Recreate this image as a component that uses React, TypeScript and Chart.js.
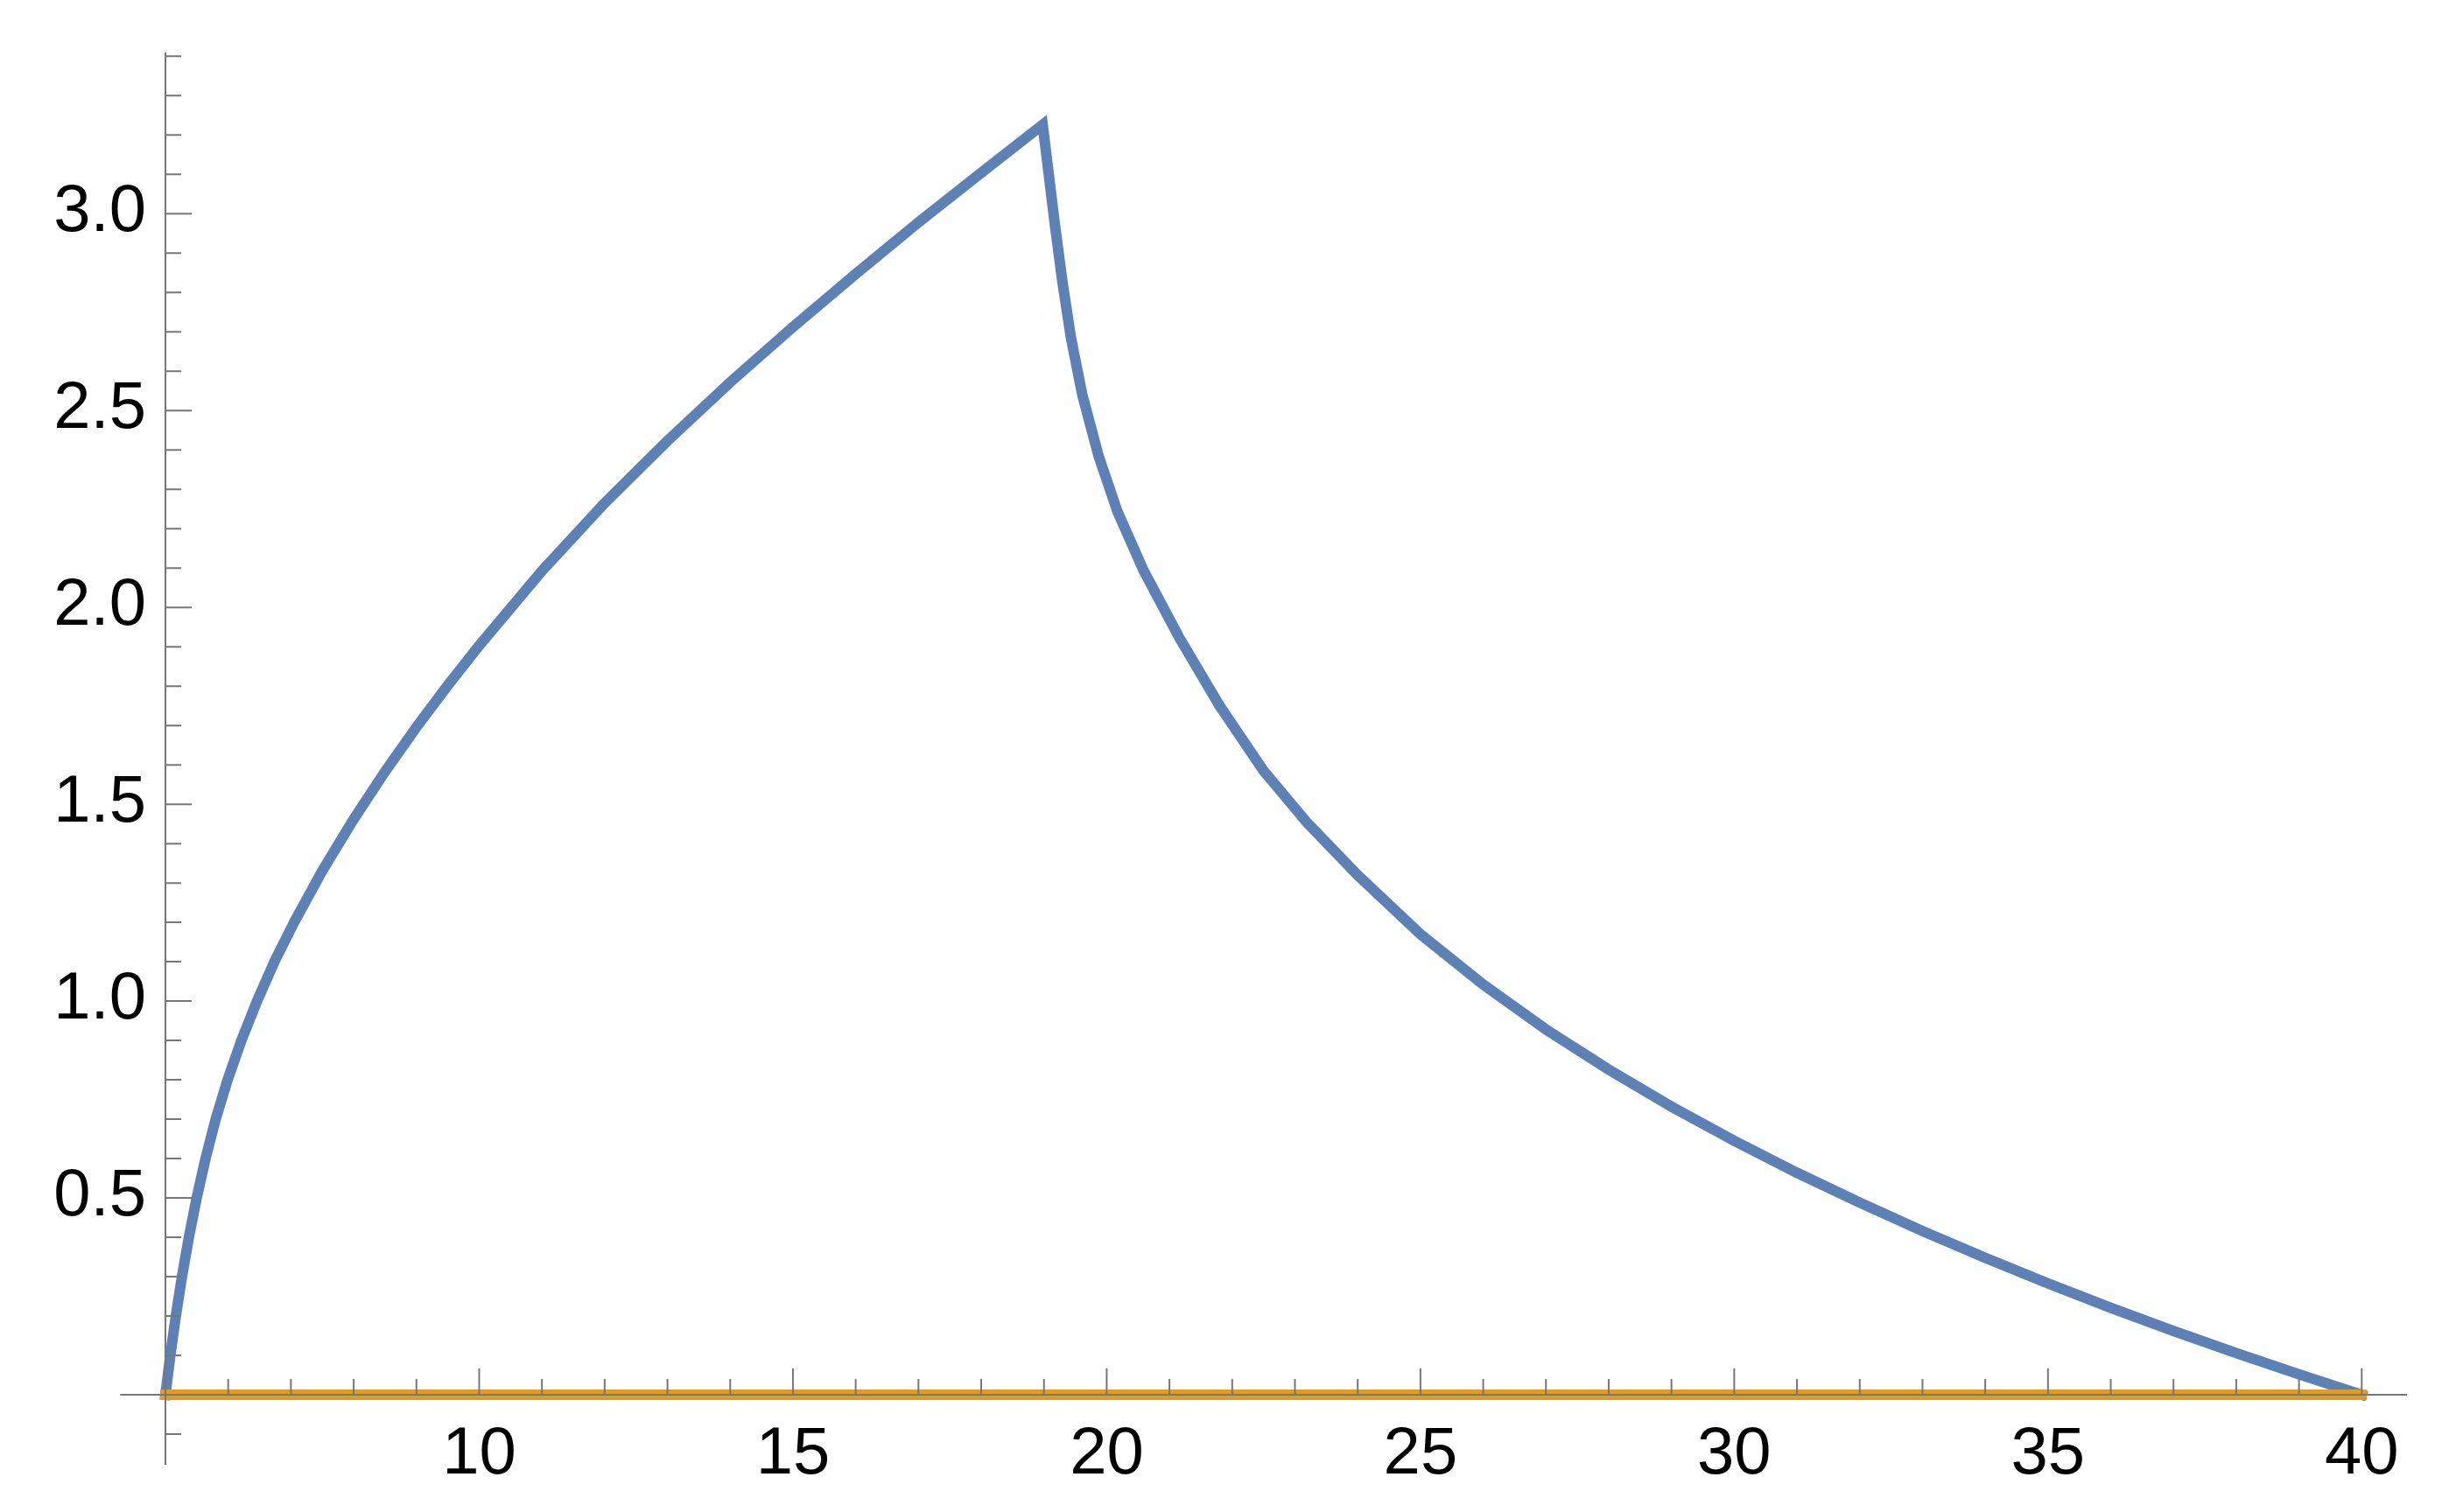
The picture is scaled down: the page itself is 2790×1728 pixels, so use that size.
import React, { useEffect, useRef } from "react";
import { Chart, registerables } from "chart.js";

Chart.register(...registerables);

// Blue curve (series 1): rising branch then falling branch
const blueX = [
  5.0, 5.078, 5.166, 5.264, 5.374, 5.498, 5.639, 5.801, 5.991, 6.211, 6.46, 6.74, 7.06, 7.5,
  8.0, 8.5, 9.0, 9.5, 10, 11, 12, 13, 14, 15, 16, 17, 18, 18.98,
  19.17, 19.29, 19.43, 19.61, 19.87, 20.17, 20.59, 21.15, 21.8, 22.5, 23.2, 24, 25, 26, 27,
  28, 29, 30, 31, 32, 33, 34, 35, 36, 37, 38, 39, 40,
];
const blueY = [
  0.0, 0.1, 0.2, 0.3, 0.4, 0.5, 0.6, 0.7, 0.8, 0.9, 1.0, 1.101, 1.203, 1.331,
  1.462, 1.583, 1.696, 1.802, 1.903, 2.093, 2.265, 2.423, 2.572, 2.712, 2.847, 2.978, 3.104, 3.226,
  2.978, 2.832, 2.685, 2.541, 2.385, 2.244, 2.093, 1.925, 1.75, 1.585, 1.452, 1.32, 1.17, 1.042, 0.928,
  0.826, 0.732, 0.645, 0.564, 0.488, 0.416, 0.348, 0.283, 0.221, 0.162, 0.106, 0.052, 0.0,
];

// Orange line (series 2)
const orangeX = [5, 40];
const orangeY = [0, 0];

// Axis ticks
const xTickLabels = ["10", "15", "20", "25", "30", "35", "40"];
const yTickLabels = ["0.5", "1.0", "1.5", "2.0", "2.5", "3.0"];
const xMinorTicks = [5, 6, 7, 8, 9, 10, 11, 12, 13, 14, 15, 16, 17, 18, 19, 20, 21, 22, 23, 24, 25, 26, 27, 28, 29, 30, 31, 32, 33, 34, 35, 36, 37, 38, 39, 40];
const yMinorTicks = [-0.1, 0, 0.1, 0.2, 0.3, 0.4, 0.5, 0.6, 0.7, 0.8, 0.9, 1.0, 1.1, 1.2, 1.3, 1.4, 1.5, 1.6, 1.7, 1.8, 1.9, 2.0, 2.1, 2.2, 2.3, 2.4, 2.5, 2.6, 2.7, 2.8, 2.9, 3.0, 3.1, 3.2, 3.3, 3.4];
const yMajorTicks = [0, 0.5, 1.0, 1.5, 2.0, 2.5, 3.0];
const xMajorTicks = [5, 10, 15, 20, 25, 30, 35, 40];

const X_MIN = 4.279;
const X_MAX = 40.721;
const Y_MIN = -0.1778;
const Y_MAX = 3.4096;
const AXIS_X = 5;
const AXIS_Y = 0;

const axesPlugin = {
  id: "mmaAxes",
  afterDatasetsDraw(chart: any) {
    const ctx = chart.ctx;
    const xs = chart.scales.x;
    const ys = chart.scales.y;
    const ca = chart.chartArea;
    const x0 = xs.getPixelForValue(AXIS_X);
    const y0 = ys.getPixelForValue(AXIS_Y);
    ctx.save();
    ctx.strokeStyle = "#777777";
    ctx.lineWidth = 2;
    ctx.lineCap = "butt";
    ctx.beginPath();
    ctx.moveTo(ca.left, y0);
    ctx.lineTo(ca.right, y0);
    ctx.moveTo(x0, ca.top);
    ctx.lineTo(x0, ca.bottom);
    xMinorTicks.forEach((v) => {
      const px = xs.getPixelForValue(v);
      const len = xMajorTicks.includes(v) ? 30 : 18;
      ctx.moveTo(px, y0);
      ctx.lineTo(px, y0 - len);
    });
    yMinorTicks.forEach((v) => {
      const py = ys.getPixelForValue(v);
      const isMajor = yMajorTicks.some((m) => Math.abs(m - v) < 1e-6);
      const len = isMajor ? 30 : 18;
      ctx.moveTo(x0, py);
      ctx.lineTo(x0 + len, py);
    });
    ctx.stroke();

    ctx.fillStyle = "#000000";
    ctx.font = '76px "Liberation Sans", Arial, sans-serif';
    ctx.textBaseline = "alphabetic";
    ctx.textAlign = "center";
    xTickLabels.forEach((lab) => {
      const px = xs.getPixelForValue(parseFloat(lab));
      ctx.fillText(lab, px, y0 + 90);
    });
    ctx.textAlign = "right";
    yTickLabels.forEach((lab) => {
      const py = ys.getPixelForValue(parseFloat(lab));
      ctx.fillText(lab, x0 - 22, py + 20);
    });
    ctx.restore();
  },
};

export default function App() {
  const ref = useRef<HTMLCanvasElement | null>(null);

  useEffect(() => {
    if (!ref.current) return;
    const blueData = blueX.map((x, i) => ({ x, y: blueY[i] }));
    const orangeData = orangeX.map((x, i) => ({ x, y: orangeY[i] }));
    const chart = new Chart(ref.current, {
      type: "line",
      data: {
        datasets: [
          {
            label: "series 2",
            data: orangeData,
            borderColor: "#E19C24",
            borderWidth: 12,
            borderCapStyle: "square",
            pointRadius: 0,
            tension: 0,
            fill: false,
            clip: false,
          },
          {
            label: "series 1",
            data: blueData,
            borderColor: "#5E81B5",
            borderWidth: 12,
            borderCapStyle: "square",
            borderJoinStyle: "miter",
            pointRadius: 0,
            tension: 0,
            cubicInterpolationMode: "default",
            fill: false,
            clip: false,
          },
        ],
      },
      options: {
        animation: false,
        responsive: false,
        devicePixelRatio: 1,
        layout: { padding: { left: 137.3, right: 40, top: 60, bottom: 54 } },
        plugins: { legend: { display: false }, tooltip: { enabled: false } },
        events: [],
        scales: {
          x: { type: "linear", min: X_MIN, max: X_MAX, display: false },
          y: { type: "linear", min: Y_MIN, max: Y_MAX, display: false },
        },
      },
      plugins: [axesPlugin],
    });
    return () => chart.destroy();
  }, []);

  return (
    <div style={{ position: "fixed", left: 0, top: 0, width: "2790px", height: "1728px", background: "#ffffff" }}>
      <canvas ref={ref} width={2790} height={1728} style={{ display: "block" }} />
    </div>
  );
}
